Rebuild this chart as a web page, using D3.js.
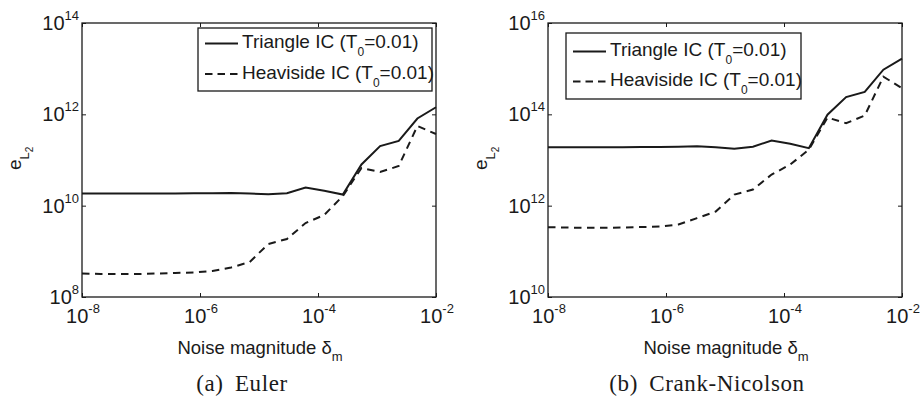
<!DOCTYPE html>
<html>
<head>
<meta charset="utf-8">
<script src="https://cdn.jsdelivr.net/npm/d3@7"></script>
<style>
  body { margin: 0; background: #fff; }
  text { font-family: "Liberation Sans", Arial, Helvetica, sans-serif; fill: #1a1a1a; }
  .caption { font-family: "Liberation Serif", "Times New Roman", serif; }
</style>
</head>
<body>
<svg id="chart" width="920" height="403"></svg>
<script>
// Noise magnitudes delta_m (20 log-spaced levels from 1e-8 to 1e-2)
const noiseMagnitude = [
  1.000e-8, 2.069e-8, 4.281e-8, 8.859e-8, 1.833e-7, 3.793e-7, 7.848e-7,
  1.624e-6, 3.360e-6, 6.952e-6, 1.438e-5, 2.976e-5, 6.158e-5, 1.274e-4,
  2.637e-4, 5.456e-4, 1.129e-3, 2.336e-3, 4.833e-3, 1.000e-2
];

// L2 error, explicit Euler
const eulerTriangle = [
  1.85e10, 1.85e10, 1.84e10, 1.84e10, 1.84e10, 1.85e10, 1.86e10,
  1.86e10, 1.89e10, 1.85e10, 1.77e10, 1.87e10, 2.50e10, 2.11e10,
  1.75e10, 8.0e10, 2.02e11, 2.61e11, 8.1e11, 1.43e12
];
const eulerHeaviside = [
  3.27e8, 3.19e8, 3.19e8, 3.17e8, 3.27e8, 3.36e8, 3.44e8,
  3.71e8, 4.42e8, 5.84e8, 1.45e9, 1.86e9, 4.17e9, 6.25e9,
  1.63e10, 6.68e10, 5.46e10, 7.39e10, 5.55e11, 3.71e11
];

// L2 error, Crank-Nicolson
const cnTriangle = [
  1.91e13, 1.91e13, 1.91e13, 1.91e13, 1.91e13, 1.92e13, 1.93e13,
  1.94e13, 1.99e13, 1.91e13, 1.77e13, 1.96e13, 2.66e13, 2.28e13,
  1.82e13, 9.84e13, 2.38e14, 3.09e14, 9.5e14, 1.66e15
];
const cnHeaviside = [
  3.37e11, 3.32e11, 3.27e11, 3.27e11, 3.32e11, 3.40e11, 3.49e11,
  3.86e11, 5.35e11, 7.43e11, 1.75e12, 2.25e12, 4.80e12, 7.93e12,
  1.69e13, 8.47e13, 6.41e13, 9.37e13, 6.68e14, 3.74e14
];

const xTickExponents = [-8, -6, -4, -2];
const eulerYTickExponents = [8, 10, 12, 14];
const cnYTickExponents = [10, 12, 14, 16];
const legendNames = ["Triangle IC", "Heaviside IC"];
const legendT0 = "0.01";
const captions = [["(a)", "Euler"], ["(b)", "Crank-Nicolson"]];

const svg = d3.select("#chart");
svg.append("rect").attr("width", 920).attr("height", 403).attr("fill", "#fff");

const plotTop = 23, plotBottom = 297;
const ink = "#1a1a1a";

const panels = [
  { left: 82, right: 436, yExp: eulerYTickExponents, tri: eulerTriangle, hev: eulerHeaviside,
    legend: { x: 198, y: 28, w: 234, h: 63, row1: 43.5, row2: 74 }, ylabelX: 21, caption: captions[0], capX: 242 },
  { left: 548, right: 902, yExp: cnYTickExponents, tri: cnTriangle, hev: cnHeaviside,
    legend: { x: 566, y: 33, w: 235, h: 66, row1: 51.5, row2: 81.5 }, ylabelX: 487, caption: captions[1], capX: 707 }
];

function powerLabel(g, x, y, exp, anchor) {
  const t = g.append("text").attr("x", x).attr("y", y).attr("text-anchor", anchor)
    .style("font-size", "20px");
  t.append("tspan").text("10");
  t.append("tspan").attr("dy", -10).style("font-size", "13px").text(String(exp));
  return t;
}

panels.forEach(p => {
  const g = svg.append("g");
  const x = d3.scaleLog().domain([1e-8, 1e-2]).range([p.left, p.right]);
  const y = d3.scaleLog().domain([Math.pow(10, p.yExp[0]), Math.pow(10, p.yExp[p.yExp.length - 1])])
    .range([plotBottom, plotTop]);
  const xt = xTickExponents.map(e => Math.pow(10, e));
  const yt = p.yExp.map(e => Math.pow(10, e));

  // inward tick marks on all four sides
  const axes = [
    [d3.axisBottom(x).tickValues(xt), `translate(0,${plotBottom})`],
    [d3.axisTop(x).tickValues(xt), `translate(0,${plotTop})`],
    [d3.axisLeft(y).tickValues(yt), `translate(${p.left},0)`],
    [d3.axisRight(y).tickValues(yt), `translate(${p.right},0)`]
  ];
  axes.forEach(([ax, tr]) => {
    const a = g.append("g").attr("transform", tr)
      .call(ax.tickSize(-4).tickFormat(""));
    a.select(".domain").remove();
    a.selectAll("line").attr("stroke", ink).attr("stroke-width", 1);
  });

  // data lines
  const line = d3.line().x((d, i) => x(noiseMagnitude[i])).y(d => y(d));
  g.append("path").datum(p.hev).attr("d", line).attr("fill", "none")
    .attr("stroke", ink).attr("stroke-width", 2).attr("stroke-dasharray", "7.5,5.5");
  g.append("path").datum(p.tri).attr("d", line).attr("fill", "none")
    .attr("stroke", ink).attr("stroke-width", 2);

  // axes box
  g.append("rect").attr("x", p.left).attr("y", plotTop)
    .attr("width", p.right - p.left).attr("height", plotBottom - plotTop)
    .attr("fill", "none").attr("stroke", ink).attr("stroke-width", 1.3);

  // tick labels
  xt.forEach((v, i) => powerLabel(g, x(v) + 1, plotBottom + 26, xTickExponents[i], "middle"));
  yt.forEach((v, i) => powerLabel(g, p.left - 3, y(v) + 7, p.yExp[i], "end"));

  // x-axis label
  const xl = g.append("text").attr("x", (p.left + p.right) / 2 + 1).attr("y", 354)
    .attr("text-anchor", "middle").style("font-size", "18.5px");
  xl.append("tspan").text("Noise magnitude \u03b4");
  xl.append("tspan").attr("dy", 7).style("font-size", "13px").text("m");

  // y-axis label
  const yl = g.append("text")
    .attr("transform", `translate(${p.ylabelX},170) rotate(-90)`)
    .style("font-size", "19px");
  yl.append("tspan").text("e");
  yl.append("tspan").attr("dy", 8).style("font-size", "13px").text("L");
  yl.append("tspan").attr("dy", 4).style("font-size", "10px").text("2");

  // legend
  const L = p.legend;
  const lg = g.append("g");
  lg.append("rect").attr("x", L.x).attr("y", L.y).attr("width", L.w).attr("height", L.h)
    .attr("fill", "#fff").attr("stroke", ink).attr("stroke-width", 1.3);
  [[L.row1, null], [L.row2, "7.5,5"]].forEach(([ry, dash], i) => {
    lg.append("line").attr("x1", L.x + 7).attr("x2", L.x + 40).attr("y1", ry).attr("y2", ry)
      .attr("stroke", ink).attr("stroke-width", 2).attr("stroke-dasharray", dash);
    const t = lg.append("text").attr("x", L.x + 44).attr("y", ry + 4.5).style("font-size", "19px");
    t.append("tspan").text(legendNames[i] + " (T");
    t.append("tspan").attr("dy", 8).style("font-size", "12px").text("0");
    t.append("tspan").attr("dy", -8).text("=" + legendT0 + ")");
  });

  // sub-figure caption
  g.append("text").attr("class", "caption").attr("x", p.capX).attr("y", 391)
    .attr("text-anchor", "middle").style("font-size", "23px")
    .style("letter-spacing", "0.6px").style("word-spacing", "5px")
    .text(p.caption.join(" "));
});
</script>
</body>
</html>
